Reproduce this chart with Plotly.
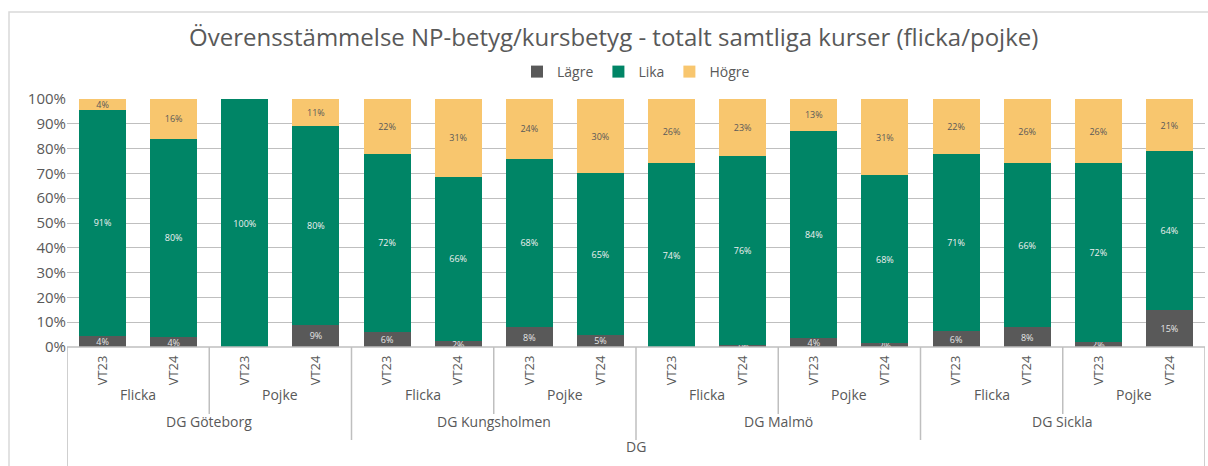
import plotly.graph_objects as go

# ---- data ----
terms = ["VT23", "VT24"] * 8
genders = ["Flicka", "Flicka", "Pojke", "Pojke"] * 4
schools = ["DG Göteborg", "DG Kungsholmen", "DG Malmö", "DG Sickla"]
top_group = "DG"
lagre = [4.4, 4, 0, 9, 6, 2.4, 8, 5, 0, 1, 3.6, 1.6, 6.4, 8, 2, 15]
lika = [91.3, 80, 100, 80, 72, 66.3, 68, 65, 74, 76, 83.6, 67.6, 71.3, 66, 72, 64]
hogre = [4.3, 16, 0, 11, 22, 31.3, 24, 30, 26, 23, 12.8, 30.8, 22.3, 26, 26, 21]
series_names = ["Lägre", "Lika", "Högre"]

FONT = "Open Sans"
GRAY = "#595959"
colors = ["#595959", "#008566", "#F8C66E"]
text_colors = ["#e6e6e6", "#f0f0f0", "#595959"]

W, H = 1208, 466
L, R = 67, 1205
T, B = 99, 347
ph = B - T

def py(px):
    return (B - px) / ph

def pxx(px):
    return (px - L) / (R - L)

xs = list(range(len(terms)))
fig = go.Figure()
for name, vals, c, tc in zip(series_names, [lagre, lika, hogre], colors, text_colors):
    fig.add_trace(go.Bar(
        x=xs, y=vals, name=name, marker_color=c, marker_line_width=0,
        texttemplate="%{y:.0f}%", textposition="inside", insidetextanchor="middle",
        textangle=0, constraintext="none",
        textfont=dict(family=FONT, size=9, color=tc),
    ))

shapes = []
# outer frame
shapes.append(dict(type="rect", xref="paper", yref="paper", x0=pxx(9), x1=pxx(1230),
                   y0=py(500), y1=py(12), line=dict(color="#d9d9d9", width=1.5), layer="below"))
# axis line
shapes.append(dict(type="line", xref="paper", yref="paper", x0=0, x1=1, y0=0, y1=0,
                   line=dict(color="#bfbfbf", width=1.5)))
# outer vertical lines
for xv in [-0.5, len(terms) - 0.5]:
    shapes.append(dict(type="line", xref="x", yref="paper", x0=xv, x1=xv, y0=0, y1=py(480),
                       line=dict(color="#bfbfbf", width=1.5)))
# school dividers
for i in range(1, len(schools)):
    xv = i * 4 - 0.5
    shapes.append(dict(type="line", xref="x", yref="paper", x0=xv, x1=xv, y0=0, y1=py(440),
                       line=dict(color="#bfbfbf", width=1.5)))
# gender dividers
for i in range(len(schools)):
    xv = i * 4 + 1.5
    shapes.append(dict(type="line", xref="x", yref="paper", x0=xv, x1=xv, y0=0, y1=py(414),
                       line=dict(color="#bfbfbf", width=1.5)))

annotations = []
for i in range(0, len(terms), 2):
    annotations.append(dict(x=i + 0.5, y=py(406), xref="x", yref="paper", text=genders[i],
                            showarrow=False, font=dict(family=FONT, size=14, color=GRAY)))
for i, s in enumerate(schools):
    annotations.append(dict(x=i * 4 + 1.5, y=py(433), xref="x", yref="paper", text=s,
                            showarrow=False, font=dict(family=FONT, size=14, color=GRAY)))
annotations.append(dict(x=(len(terms) - 1) / 2, y=py(458), xref="x", yref="paper", text=top_group,
                        showarrow=False, font=dict(family=FONT, size=14, color=GRAY)))

fig.update_layout(
    width=W, height=H,
    margin=dict(l=L, r=W - R, t=T, b=H - B, autoexpand=False),
    paper_bgcolor="white", plot_bgcolor="white",
    barmode="stack", bargap=0.34,
    font=dict(family=FONT, color=GRAY),
    title=dict(text="Överensstämmelse NP-betyg/kursbetyg - totalt samtliga kurser (flicka/pojke)",
               x=0.508, xanchor="center", y=1 - 38 / H, yanchor="middle",
               font=dict(family=FONT, size=24, color=GRAY)),
    legend=dict(orientation="h", x=0.5, xanchor="center", y=py(72), yanchor="middle",
                font=dict(family=FONT, size=14, color=GRAY), traceorder="normal"),
    uniformtext=dict(minsize=9, mode="show"),
    shapes=shapes, annotations=annotations,
)
fig.update_xaxes(tickmode="array", tickvals=xs, ticktext=terms, tickangle=-90,
                 range=[-0.5, len(terms) - 0.5], showgrid=False, showline=False, ticks="",
                 ticklabelstandoff=5,
                 tickfont=dict(family=FONT, size=13, color=GRAY), zeroline=False, automargin=False)
fig.update_yaxes(range=[0, 100], dtick=10, ticksuffix="%", showgrid=True, gridcolor="#bfbfbf",
                 gridwidth=1, zeroline=False, showline=False, automargin=False,
                 tickfont=dict(family=FONT, size=15, color=GRAY))

fig.write_html("out.html", config={"displayModeBar": False},
               post_script="document.body.style.margin='0';document.body.style.overflow='hidden';")
